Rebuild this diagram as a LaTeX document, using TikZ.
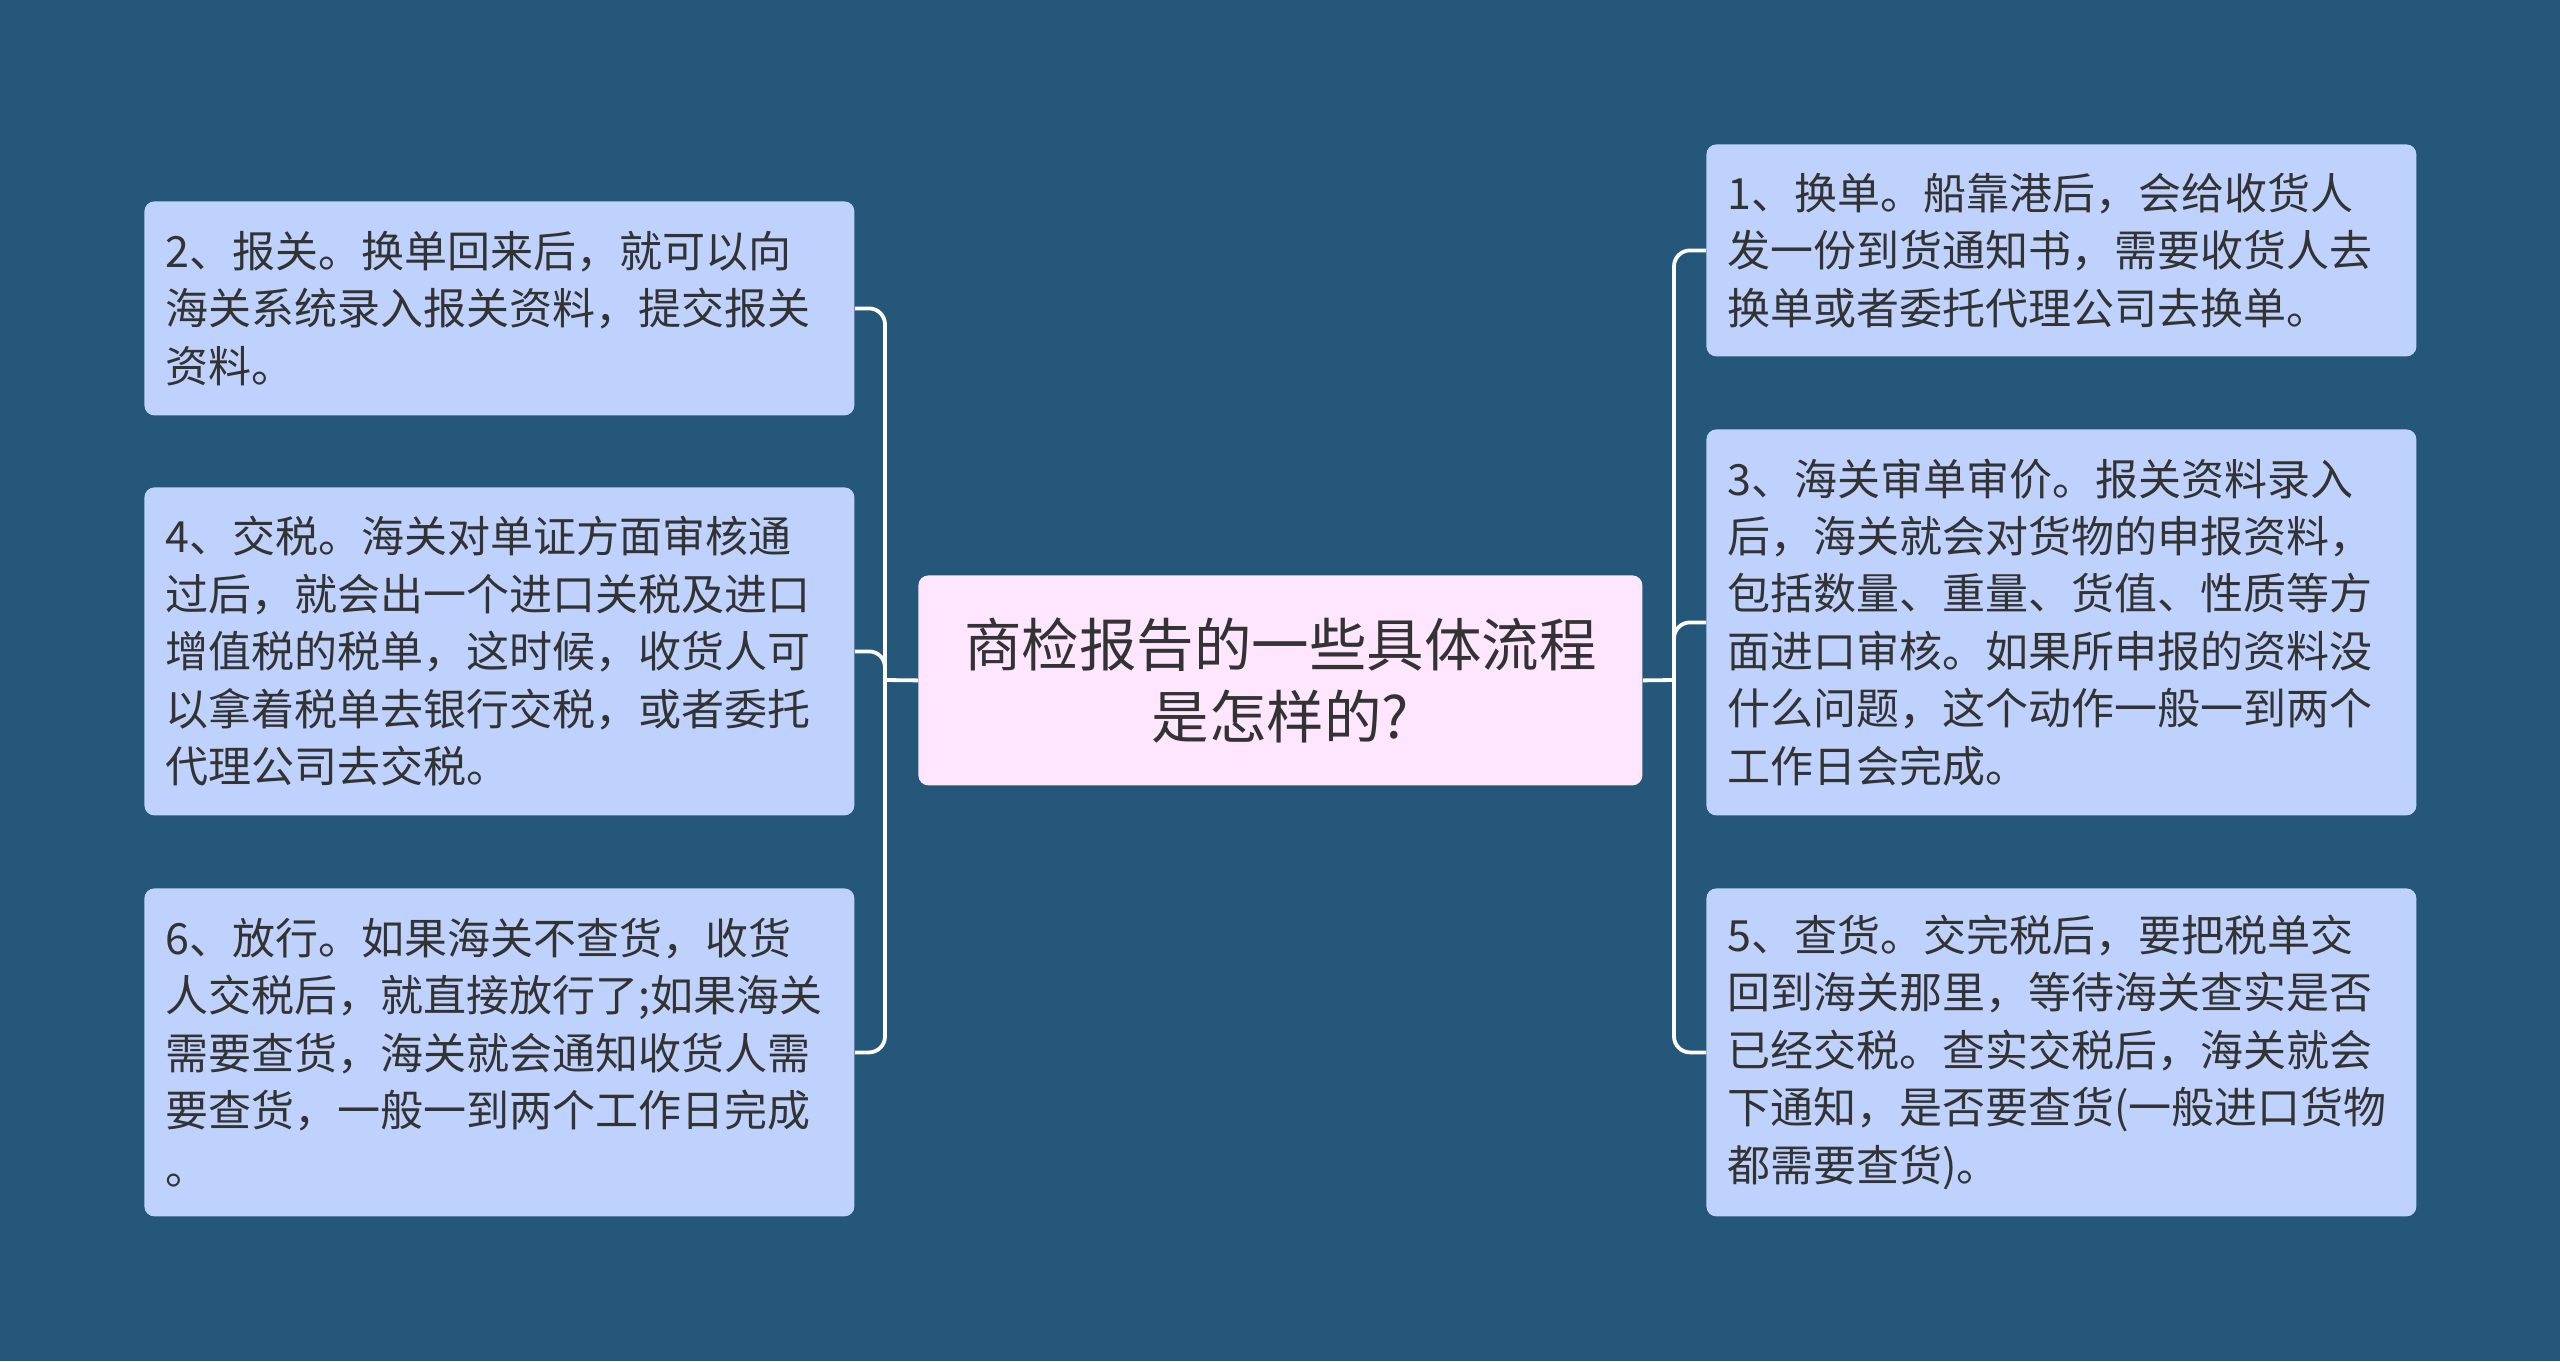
\documentclass[tikz,border=0pt]{standalone}
\usepackage{fontspec}
\setmainfont{Noto Sans CJK SC}
\definecolor{bgc}{RGB}{36,87,121}
\definecolor{leafc}{RGB}{190,210,253}
\definecolor{rootc}{RGB}{255,230,255}
\definecolor{txtc}{RGB}{51,51,51}
\begin{document}
\begin{tikzpicture}[x=0.5pt,y=-0.5pt,
  leaf/.style={fill=leafc, rounded corners=5pt, anchor=north west, inner xsep=10.5pt, inner ysep=0pt,
    text width=334pt, align=left, minimum width=355pt, text=txtc,
    font=\fontsize{21.5pt}{28.75pt}\selectfont},
  root/.style={fill=rootc, rounded corners=5pt, anchor=north west, inner xsep=10pt, inner ysep=0pt,
    text width=342pt, align=center, minimum width=362pt, minimum height=105pt, text=txtc,
    font=\fontsize{28.75pt}{36pt}\selectfont},
  conn/.style={draw=white, line width=1.9pt, rounded corners=8pt}]
\fill[bgc] (0,0) rectangle (2560,1361);
\useasboundingbox (0,0) rectangle (2560,1361);

\node[root] (c) at (918,575) {商检报告的一些具体流程\\是怎样的?};

\node[leaf, minimum height=107pt] (b2) at (144,201) {2、报关。换单回来后，就可以向\\海关系统录入报关资料，提交报关\\资料。};
\node[leaf, minimum height=164pt] (b4) at (144,487) {4、交税。海关对单证方面审核通\\过后，就会出一个进口关税及进口\\增值税的税单，这时候，收货人可\\以拿着税单去银行交税，或者委托\\代理公司去交税。};
\node[leaf, minimum height=164pt] (b6) at (144,888) {6、放行。如果海关不查货，收货\\人交税后，就直接放行了;如果海关\\需要查货，海关就会通知收货人需\\要查货，一般一到两个工作日完成\\。};

\node[leaf, minimum height=106pt] (b1) at (1706,144) {1、换单。船靠港后，会给收货人\\发一份到货通知书，需要收货人去\\换单或者委托代理公司去换单。};
\node[leaf, minimum height=193pt] (b3) at (1706,429) {3、海关审单审价。报关资料录入\\后，海关就会对货物的申报资料，\\包括数量、重量、货值、性质等方\\面进口审核。如果所申报的资料没\\什么问题，这个动作一般一到两个\\工作日会完成。};
\node[leaf, minimum height=164pt] (b5) at (1706,888) {5、查货。交完税后，要把税单交\\回到海关那里，等待海关查实是否\\已经交税。查实交税后，海关就会\\下通知，是否要查货(一般进口货物\\都需要查货)。};

\coordinate (lj) at (885,680);
\coordinate (rj) at (1674,680);

\draw[conn] (c.west) -- (lj);
\draw[conn] (lj) |- (b2.east);
\draw[conn] (lj) |- (b4.east);
\draw[conn] (lj) |- (b6.east);

\draw[conn] (c.east) -- (rj);
\draw[conn] (rj) |- (b1.west);
\draw[conn] (rj) |- (b3.west);
\draw[conn] (rj) |- (b5.west);
\end{tikzpicture}
\end{document}
